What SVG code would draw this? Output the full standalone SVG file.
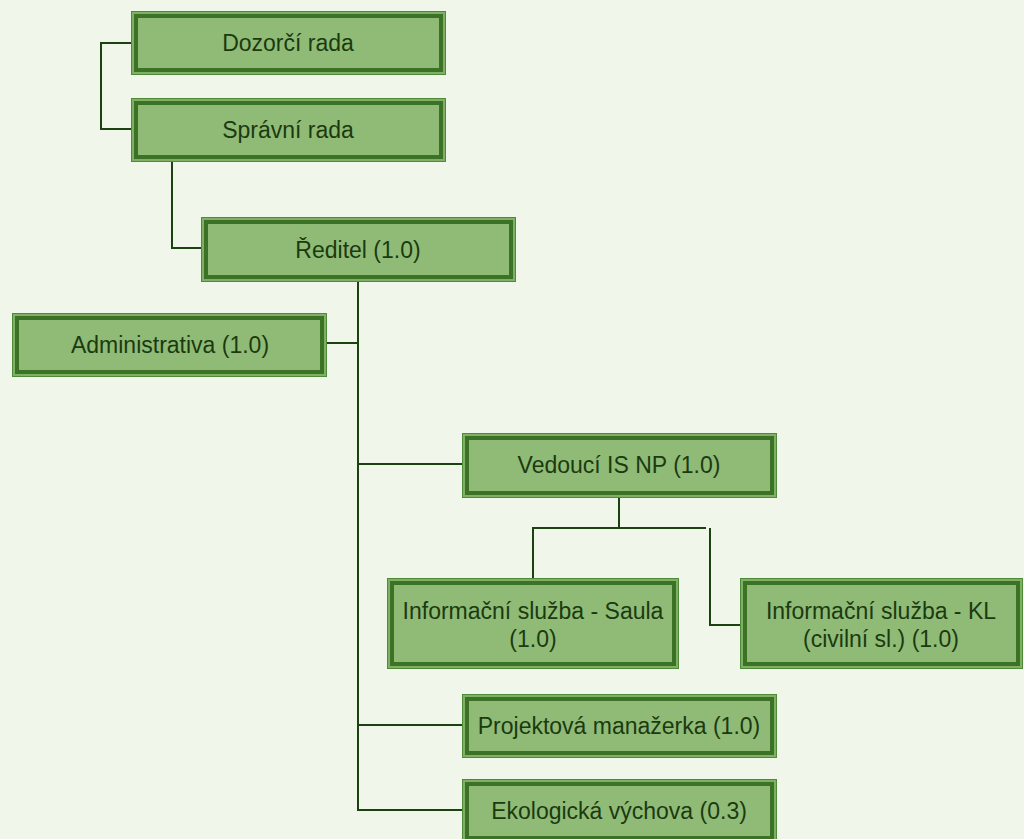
<svg xmlns="http://www.w3.org/2000/svg" width="1024" height="839" viewBox="0 0 1024 839">
<style>
.bg{fill:#f1f6ea}
.o{fill:#7fb066;stroke:#4f8a38;stroke-width:1}
.i{fill:#8fbb77;stroke:#3b7226;stroke-width:4}
.t{font-family:"Liberation Sans",Arial,sans-serif;font-size:23px;fill:#1b3a10;text-anchor:middle;dominant-baseline:central}
.c{fill:none;stroke:#1c4211;stroke-width:2}
</style>
<rect class="bg" x="0" y="0" width="1024" height="839"/>
<g id="connectors">
<path class="c" d="M131,43 H101 V129 H131"/>
<path class="c" d="M172,162 V248 H201"/>
<path class="c" d="M358,282 V810 H462"/>
<path class="c" d="M327,343 H358"/>
<path class="c" d="M358,464 H462"/>
<path class="c" d="M358,725 H462"/>
<path class="c" d="M619,498 V528"/>
<path class="c" d="M533,578 V528 H706"/>
<path class="c" d="M710,528 V625 H740"/>
</g>
<g id="n1"><rect class="o" x="131.5" y="11.5" width="314" height="63"/><rect class="i" x="136" y="16" width="305" height="54"/><text class="t" x="288" y="43">Dozorčí rada</text></g>
<g id="n2"><rect class="o" x="131.5" y="98.5" width="314" height="63"/><rect class="i" x="136" y="103" width="305" height="54"/><text class="t" x="288" y="130">Správní rada</text></g>
<g id="n3"><rect class="o" x="201.5" y="217.5" width="314" height="64"/><rect class="i" x="206" y="222" width="305" height="55"/><text class="t" x="358" y="250">Ředitel (1.0)</text></g>
<g id="n4"><rect class="o" x="12.5" y="313.5" width="314" height="63"/><rect class="i" x="17" y="318" width="305" height="54"/><text class="t" x="170" y="345">Administrativa (1.0)</text></g>
<g id="n5"><rect class="o" x="462.5" y="433.5" width="314" height="64"/><rect class="i" x="467" y="438" width="305" height="55"/><text class="t" x="619" y="465">Vedoucí IS NP (1.0)</text></g>
<g id="n6"><rect class="o" x="387.5" y="578.5" width="291" height="90"/><rect class="i" x="392" y="583" width="282" height="81"/><text class="t" x="533" y="611">Informační služba - Saula</text><text class="t" x="533" y="639">(1.0)</text></g>
<g id="n7"><rect class="o" x="740.5" y="578.5" width="282" height="90"/><rect class="i" x="745" y="583" width="273" height="81"/><text class="t" x="881" y="611">Informační služba - KL</text><text class="t" x="881" y="639">(civilní sl.) (1.0)</text></g>
<g id="n8"><rect class="o" x="462.5" y="694.5" width="314" height="63"/><rect class="i" x="467" y="699" width="305" height="54"/><text class="t" x="619" y="726">Projektová manažerka (1.0)</text></g>
<g id="n9"><rect class="o" x="462.5" y="779.5" width="314" height="63"/><rect class="i" x="467" y="784" width="305" height="54"/><text class="t" x="619" y="811">Ekologická výchova (0.3)</text></g>
</svg>
